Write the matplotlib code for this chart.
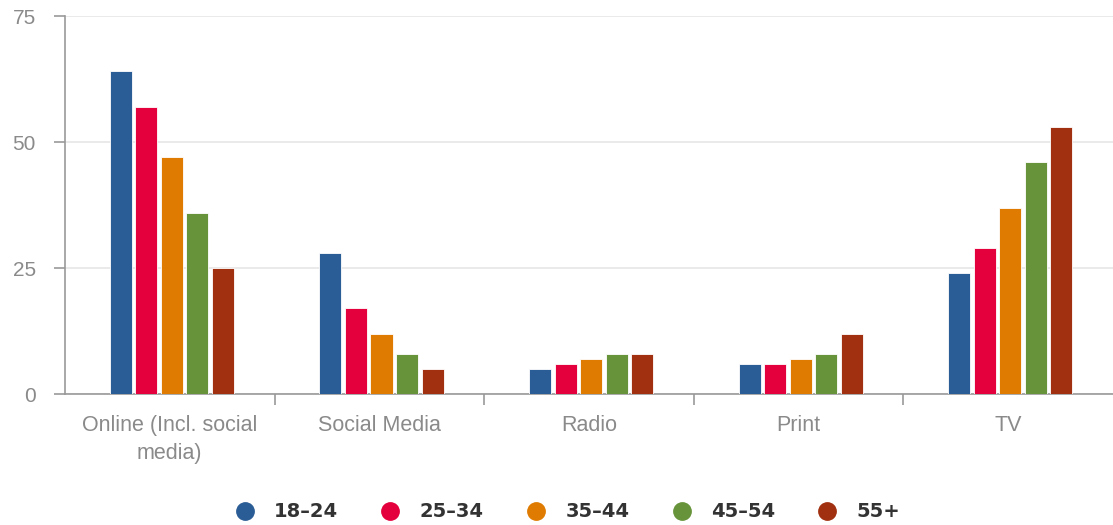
import matplotlib
matplotlib.use("Agg")
import matplotlib.pyplot as plt
import numpy as np
from matplotlib.lines import Line2D

plt.rcParams['font.family'] = ['Liberation Sans', 'DejaVu Sans']

# data
categories = ['Online (Incl. social\nmedia)', 'Social Media', 'Radio', 'Print', 'TV']
age_groups = ['18-24', '25-34', '35-44', '45-54', '55+']
age_18_24 = [64, 28, 5, 6, 24]
age_25_34 = [57, 17, 6, 6, 29]
age_35_44 = [47, 12, 7, 7, 37]
age_45_54 = [36, 8, 8, 8, 46]
age_55_plus = [25, 5, 8, 12, 53]
series = [age_18_24, age_25_34, age_35_44, age_45_54, age_55_plus]
colors = ['#2A5C95', '#E3003C', '#DE7B00', '#67943A', '#A03010']
y_ticks = [0, 25, 50, 75]

fig = plt.figure(figsize=(11.13, 5.25), dpi=100)
ax = fig.add_axes([65 / 1113, 1 - 394 / 525, 1 - 65 / 1113, 378 / 525])

x = np.arange(len(categories))
bar_w = 0.105
step = 0.122
for i, vals in enumerate(series):
    ax.bar(x + (i - 2) * step + 0.01, vals, width=bar_w, color=colors[i],
           edgecolor='white', linewidth=0.6, zorder=3)

ax.set_xlim(-0.5, len(categories) - 0.5)
ax.set_ylim(0, 75)
ax.set_yticks(y_ticks)
ax.set_xticks(x)
ax.set_xticklabels(categories, fontsize=15.5, color='#8a8a8a', linespacing=1.45)
ax.set_xticks(x[:-1] + 0.5, minor=True)
ax.tick_params(axis='x', which='major', length=0, pad=15)
ax.tick_params(axis='x', which='minor', length=8, width=1.2, color='#999999')
ax.tick_params(axis='y', length=8, width=1.2, color='#999999', labelsize=15,
               labelcolor='#8a8a8a', pad=13)

ax.grid(axis='y', color='#e6e6e6', linewidth=1.2, zorder=0)
for s in ['top', 'right']:
    ax.spines[s].set_visible(False)
ax.spines['left'].set_color('#999999')
ax.spines['bottom'].set_color('#999999')
ax.spines['left'].set_linewidth(1.2)
ax.spines['bottom'].set_linewidth(1.2)

handles = [Line2D([], [], marker='o', linestyle='none', markersize=12.5,
                  markerfacecolor=c, markeredgecolor=c) for c in colors]
labels = [a.replace('-', '\u2013') for a in age_groups]
fig.legend(handles, labels, loc='center', bbox_to_anchor=(0.51, 0.025),
           ncol=5, frameon=False, handlelength=1.0, handletextpad=1.0,
           columnspacing=2.2,
           prop={'family': 'DejaVu Sans', 'weight': 'bold', 'size': 14},
           labelcolor='#333333')

fig.savefig('out.png', dpi=100)
